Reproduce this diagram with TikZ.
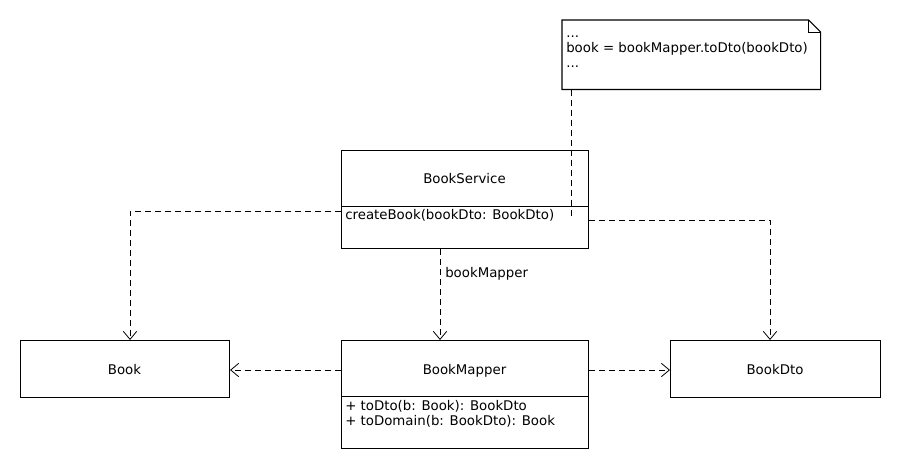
\documentclass[tikz,border=0pt]{standalone}
\usepackage{fontspec}
\setmainfont{DejaVu Sans}
\usetikzlibrary{arrows.meta}
\begin{document}
\begin{tikzpicture}[x=0.75pt,y=-0.75pt,
  font=\fontsize{10pt}{12pt}\selectfont,
  box/.style={draw,line width=0.8pt,anchor=north west,inner sep=0pt},
  txt/.style={inner sep=0pt,anchor=base west},
  ctxt/.style={inner sep=0pt,anchor=base},
  dep/.style={line width=0.6pt,dash pattern=on 4.5pt off 3pt},
  deparrow/.style={dep,-{Straight Barb[length=6pt,width=10pt,line width=0.6pt]}}]
\useasboundingbox (0,0) rectangle (900,470);
% boxes
\node[box,minimum width=185.25pt,minimum height=73.5pt] (svc) at (341,150) {};
\node[box,minimum width=185.25pt,minimum height=81pt] (map) at (341,340) {};
\node[box,minimum width=156.75pt,minimum height=42.75pt] (book) at (20,340) {};
\node[box,minimum width=157.5pt,minimum height=42.75pt] (dto) at (670,340) {};
\node[inner sep=0pt,anchor=north west,minimum width=193.5pt,minimum height=51.75pt] (note) at (562,20) {};
\draw[line width=0.8pt] (note.north west) -- ([xshift=-9pt]note.north east) -- ([yshift=-9pt]note.north east) -- (note.south east) -- (note.south west) -- cycle;
\draw[line width=0.6pt] ([xshift=-9pt]note.north east) -- ([xshift=-9pt,yshift=-9pt]note.north east) -- ([yshift=-9pt]note.north east);
% dividers
\coordinate (svcdiv) at (341,206);
\draw[line width=0.7pt] (svcdiv) -- (svcdiv -| svc.east);
\coordinate (mapdiv) at (341,396);
\draw[line width=0.7pt] (mapdiv) -- (mapdiv -| map.east);
% texts
\node[ctxt] (svct) at (464.5,184) {BookService};
\node[txt] (svcm) at (345,220) {createBook(bookDto: BookDto)};
\node[ctxt] (mapt) at (464.5,374) {BookMapper};
\node[txt] (mapm1) at (345,410) {+ toDto(b: Book): BookDto};
\node[txt] (mapm2) at (345,426) {+ toDomain(b: BookDto): Book};
\node[ctxt] (bookt) at (124.5,374) {Book};
\node[ctxt] (dtot) at (775,374) {BookDto};
\node[txt] (n1) at (566,38) {...};
\node[txt] (n2) at (566,53) {book = bookMapper.toDto(bookDto)};
\node[txt] (n3) at (566,68) {...};
\node[txt] (lbl) at (445,278) {bookMapper};
% connectors
\coordinate (nEnd) at (571,218);
\draw[dep] (note.south -| nEnd) -- (nEnd);
\coordinate (bookIn) at (130,340);
\draw[deparrow] (svc.west |- 0,211) -| (bookIn);
\coordinate (dtoIn) at (770,340);
\draw[deparrow] (svc.east |- 0,220) -| (dtoIn);
\coordinate (mapIn) at (440,340);
\draw[deparrow] (svc.south -| mapIn) -- (mapIn);
\draw[deparrow] (map.west |- 0,370) -- (book.east |- 0,370);
\draw[deparrow] (map.east |- 0,370) -- (dto.west |- 0,370);
\end{tikzpicture}
\end{document}
